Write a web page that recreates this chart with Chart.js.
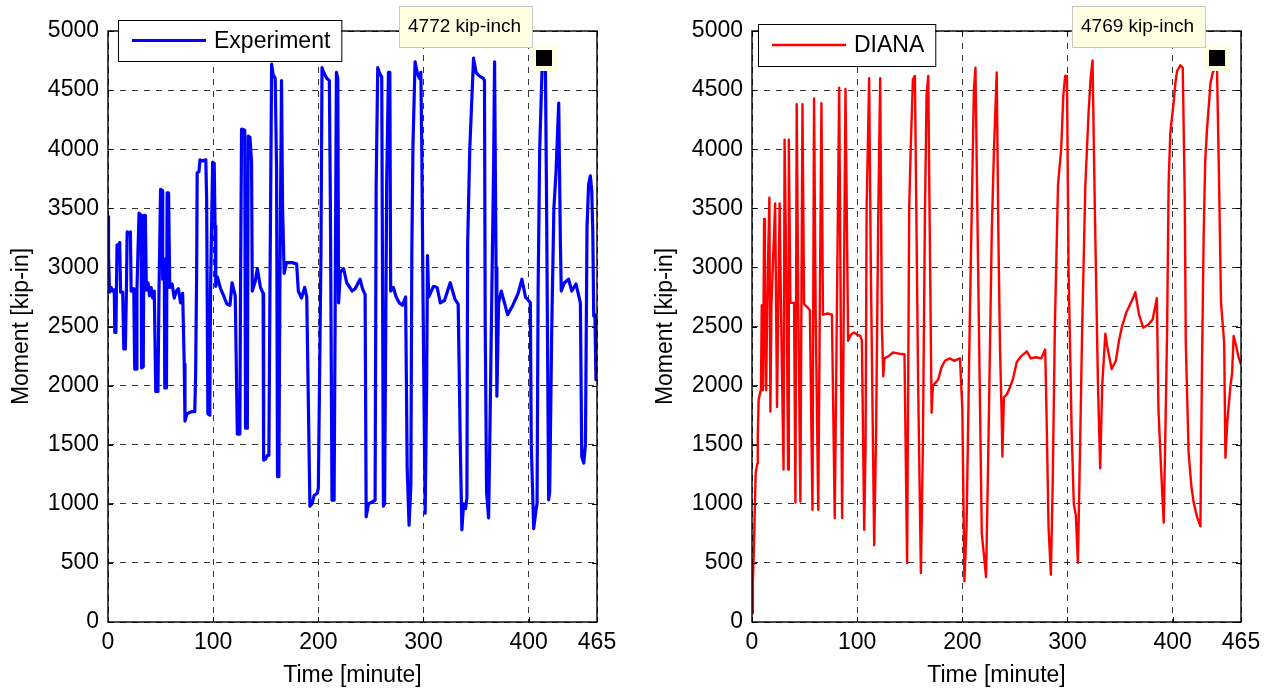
<!DOCTYPE html>
<html>
<head>
<meta charset="utf-8">
<script src="https://cdn.jsdelivr.net/npm/chart.js@4.4.0/dist/chart.umd.min.js"></script>
<style>
  html, body { margin: 0; padding: 0; background: #fff; }
  #wrap { position: relative; width: 1270px; height: 690px; }
  canvas { position: absolute; top: 0; }
</style>
</head>
<body>
<div id="wrap">
  <canvas id="expChart" width="635" height="690" style="left:0;width:635px;height:690px"></canvas>
  <canvas id="dianaChart" width="635" height="690" style="left:635px;width:635px;height:690px"></canvas>
</div>
<script>
// Experiment (blue)
var expTime = [0, 0.5, 1.5, 3, 4.5, 6, 6.5, 7.5, 8, 8.6, 10, 11.1, 12, 14, 15, 16.5, 17.5, 18.2, 20, 21.3,
  22, 24.5, 25.4, 26.8, 27.5, 29.5, 31.5, 32, 33.5, 34.3, 35.5, 36.5, 38, 39.5, 41, 42.5, 44, 45.4, 47.5, 48.5, 50, 51.5,
  52, 53.5, 54, 55.6, 56.2, 57.6, 58.7, 61, 63, 65, 67, 69, 71, 72.5, 73.2, 75, 77, 80, 82.5, 83.3,
  84.3, 84.8, 86.5, 87.5, 90, 93, 93.8, 95, 96.8, 97.5, 99.5, 101, 101.8, 102.5, 104, 107, 110, 113, 116, 118,
  121, 123, 125.4, 126, 127, 130, 130.8, 132.5, 133.3, 135, 136.5, 137.2, 140, 142, 145, 147.5, 148, 150, 151.5, 153,
  154, 155.6, 157, 159, 160.3, 161.2, 162.5, 163.5, 165, 166, 167.5, 169.8, 175, 179.4, 181, 184, 187, 189, 192, 194,
  196, 199, 200, 201.5, 202.5, 203.5, 205, 208, 210.5, 211.5, 213, 215, 216, 217.2, 218.5, 219.3, 221, 224, 227, 230,
  232, 235, 239.7, 242, 244.5, 245.5, 247.7, 250, 254, 255, 256.5, 258, 260.3, 261, 261.9, 263, 265, 266.7, 268, 268.8,
  271.4, 274, 277, 280, 283, 284.5, 286.3, 288, 288.9, 290, 292, 294, 296, 297.5, 298.4, 299.5, 301.6, 303, 303.8, 305,
  309.5, 313, 316, 320, 325.4, 330, 333, 335, 336.5, 338.1, 340, 341.3, 342, 344, 347.6, 350, 353, 357, 358, 358.7,
  360, 361.9, 363, 365, 366.7, 367.6, 369, 369.8, 371.4, 374, 377, 380, 385, 390, 393.6, 397, 401.6, 402.5, 404.8, 407,
  408, 409, 410.5, 412.7, 414.3, 416, 417, 419, 420, 422, 424, 426, 428.6, 430.2, 431, 434, 438, 441, 445, 449.2,
  450.5, 452.4, 454, 455.5, 457, 458.7, 460, 461, 461.9, 463, 464, 465];
var expMoment = [3430, 3100, 2790, 2830, 2800, 2810, 2450, 2450, 2800, 3190, 3180, 3210, 2790, 2790, 2310, 2310, 2800, 3300, 3280, 3300,
  2800, 2820, 2140, 2140, 2800, 3460, 3440, 2150, 2160, 3440, 3440, 2810, 2870, 2760, 2830, 2740, 2800, 1950, 1950, 2800, 3660, 3650,
  2900, 3070, 1980, 1980, 3630, 3630, 2830, 2860, 2740, 2800, 2820, 2700, 2780, 2180, 1700, 1760, 1770, 1780, 1780, 2080,
  2960, 3800, 3810, 3910, 3900, 3910, 3580, 1760, 1750, 2800, 3890, 3880, 3350, 2840, 2920, 2820, 2760, 2690, 2680, 2870,
  2760, 1590, 1590, 2780, 4170, 4160, 1640, 1640, 4110, 4100, 3890, 2800, 2880, 2990, 2830, 2780, 1370, 1380, 1410, 1410,
  2800, 4720, 4630, 4600, 3830, 1230, 1230, 2900, 4580, 3500, 2950, 3040, 3040, 3030, 2800, 2740, 2830, 2750, 980, 1000,
  1070, 1090, 1130, 2300, 3100, 4690, 4650, 4600, 4580, 3500, 1030, 1030, 2600, 4650, 4600, 2700, 2960, 2990, 2870, 2830,
  2800, 2820, 2900, 2820, 2770, 890, 1000, 1010, 1030, 3690, 4690, 4650, 4610, 3000, 980, 1000, 3700, 4650, 4650, 2800,
  2830, 2750, 2700, 2680, 2750, 1300, 820, 1160, 3120, 4030, 4740, 4650, 4600, 4650, 4000, 2800, 920, 2000, 3100, 2750,
  2840, 2830, 2700, 2720, 2870, 2730, 2690, 1500, 780, 1000, 960, 1050, 3200, 4000, 4770, 4650, 4620, 4600, 4580, 2500,
  1100, 880, 1500, 2800, 3860, 4740, 3000, 1910, 2700, 2800, 2700, 2600, 2680, 2780, 2900, 2750, 2700, 1500, 790, 950,
  1000, 2800, 4000, 4660, 4772, 4650, 3600, 1034, 1100, 2500, 3500, 3800, 4390, 3200, 2800, 2870, 2900, 2800, 2860, 2700,
  1400, 1345, 1500, 3340, 3700, 3775, 3650, 3300, 2590, 2600, 2050, 2600];

// DIANA (red)
var dianaTime = [0, 0.8, 1.8, 2.5, 3.5, 5, 5.5, 6.3, 8.5, 9.3, 10.5, 11.5, 12.3, 13.5, 14.5, 16.5, 17.5, 18.5, 22, 23.8,
  25, 26.3, 27.5, 30, 31, 33, 34.3, 35, 36.5, 40, 41.3, 42.5, 44, 46, 48, 49.5, 53, 55, 57.5, 59,
  60.5, 63, 66, 67.5, 72, 76, 78.7, 82.9, 85.7, 88.9, 91.4, 94, 97, 100, 103, 104.5, 106.7, 108, 109, 111.4,
  113, 116.2, 118, 120, 121.9, 123.5, 124.8, 126, 130, 134, 140, 145, 146.5, 147.5, 149.5, 151, 153, 154.9, 156, 158,
  160.6, 162.5, 164.5, 166, 167.6, 168.8, 170.8, 172, 177, 180, 183.5, 188, 192, 197.8, 200, 202, 204, 207, 209, 211,
  212.5, 215, 218.5, 222.6, 225, 228, 230, 232.7, 234.3, 235.8, 237.5, 238.1, 239.5, 242.3, 245, 248, 251.8, 256, 261.3, 265,
  270, 275, 278.8, 280, 282, 284.2, 286, 288, 291, 294, 296, 297.8, 299.5, 301, 304, 306, 308, 309.9, 312, 314,
  317, 320, 322, 323.8, 326, 329, 331.1, 333, 336, 338, 342, 346, 349, 351.8, 356, 361.3, 364.5, 368, 372, 377.2,
  381, 385, 386.5, 389, 391.5, 393.1, 394.7, 396.2, 397.8, 401, 402.6, 404.2, 407.3, 409.6, 411.5, 412.5, 415.2, 417.8, 420, 423.2,
  426.4, 427.9, 429.5, 431, 432.7, 436, 438.2, 440.7, 442, 444, 446, 449, 450.2, 452, 455, 456.5, 458, 460, 463, 465];
var dianaMoment = [75, 330, 610, 890, 1260, 1340, 1570, 1880, 1970, 2680, 1960, 3410, 2680, 1960, 2700, 3590, 1780, 2690, 3540, 1820,
  2690, 3540, 2700, 1290, 4080, 2690, 1290, 4080, 2700, 2700, 1010, 4380, 2680, 1020, 4380, 2690, 2660, 2640, 950, 4430,
  2640, 950, 4390, 2600, 2610, 2600, 880, 4520, 880, 4510, 2380, 2430, 2450, 2430, 2420, 2380, 780, 1500, 3500, 4600,
  3000, 650, 1600, 3400, 4600, 2500, 2080, 2230, 2250, 2280, 2270, 2265, 1200, 500, 3520, 4030, 4590, 4620, 3690, 2000,
  415, 1500, 3500, 4460, 4620, 3500, 1770, 2000, 2050, 2150, 2210, 2230, 2210, 2230, 1800, 345, 800, 2500, 3500, 4500,
  4690, 3000, 750, 380, 1600, 3300, 3970, 4650, 3270, 2330, 1710, 1400, 1900, 1925, 1980, 2050, 2200, 2250, 2290, 2230,
  2240, 2230, 2305, 1800, 800, 400, 1200, 2500, 3700, 4000, 4450, 4620, 4620, 3000, 1600, 1000, 900, 500, 1500, 2500,
  3700, 4300, 4600, 4750, 3500, 2000, 1300, 2000, 2440, 2320, 2140, 2210, 2380, 2500, 2620, 2720, 2790, 2600, 2490, 2520,
  2560, 2740, 1800, 1300, 840, 1610, 2450, 3720, 4140, 4400, 4560, 4660, 4710, 4690, 3600, 2360, 1430, 1150, 1010, 890,
  810, 2160, 3270, 3910, 4170, 4560, 4650, 4690, 4769, 3800, 2700, 2360, 1390, 1700, 2000, 2100, 2420, 2350, 2230, 2180];

var xTicks = [0, 100, 200, 300, 400, 465];
var yTicks = [0, 500, 1000, 1500, 2000, 2500, 3000, 3500, 4000, 4500, 5000];

var FONT = "'Liberation Sans', Arial, sans-serif";

function toPoints(t, v) {
  return t.map(function (x, i) { return { x: x, y: v[i] }; });
}

// box around the plot area and small inward tick marks
var framePlugin = {
  id: 'frame',
  afterDatasetsDraw: function (chart) {
    var a = chart.chartArea, ctx = chart.ctx;
    var xs = chart.scales.x, ys = chart.scales.y;
    ctx.save();
    ctx.strokeStyle = '#000';
    ctx.lineWidth = 1;
    ctx.beginPath();
    xTicks.forEach(function (v) {
      var px = Math.round(xs.getPixelForValue(v)) + 0.5;
      ctx.moveTo(px, a.bottom); ctx.lineTo(px, a.bottom - 5);
      ctx.moveTo(px, a.top); ctx.lineTo(px, a.top + 5);
    });
    yTicks.forEach(function (v) {
      var py = Math.round(ys.getPixelForValue(v)) + 0.5;
      ctx.moveTo(a.left, py); ctx.lineTo(a.left + 5, py);
      ctx.moveTo(a.right, py); ctx.lineTo(a.right - 5, py);
    });
    ctx.stroke();
    ctx.lineWidth = 1.4;
    ctx.strokeRect(a.left, a.top, a.right - a.left, a.bottom - a.top);
    ctx.restore();
  }
};

// matlab style legend box inside the axes
var boxLegend = {
  id: 'boxLegend',
  afterDraw: function (chart, args, opts) {
    var ds = chart.data.datasets[0];
    var ctx = chart.ctx, a = chart.chartArea;
    var x0 = a.left + opts.dx, y0 = a.top + opts.dy, h = opts.h;
    ctx.save();
    ctx.font = '23px ' + FONT;
    var w = 96 + ctx.measureText(ds.label).width + 11;
    ctx.fillStyle = '#fff';
    ctx.fillRect(x0, y0, w, h);
    ctx.strokeStyle = '#000';
    ctx.lineWidth = 1;
    ctx.strokeRect(x0 + 0.5, y0 + 0.5, w, h);
    ctx.strokeStyle = ds.borderColor;
    ctx.lineWidth = ds.borderWidth;
    ctx.beginPath();
    ctx.moveTo(x0 + 14, y0 + h / 2);
    ctx.lineTo(x0 + 88, y0 + h / 2);
    ctx.stroke();
    ctx.fillStyle = '#000';
    ctx.textBaseline = 'middle';
    ctx.fillText(ds.label, x0 + 96, y0 + h / 2 + 1);
    ctx.restore();
  }
};

// data tip on the largest value
var dataTip = {
  id: 'dataTip',
  afterDraw: function (chart) {
    var pts = chart.data.datasets[0].data;
    var best = pts[0];
    pts.forEach(function (p) { if (p.y > best.y) best = p; });
    var px = Math.round(chart.scales.x.getPixelForValue(best.x));
    var py = Math.round(chart.scales.y.getPixelForValue(best.y));
    var ctx = chart.ctx;
    ctx.save();
    ctx.fillStyle = '#ffffe1';
    ctx.fillRect(px - 13, py - 13, 26, 26);
    ctx.fillStyle = '#000';
    ctx.fillRect(px - 8, py - 8, 16, 16);
    ctx.font = '19px ' + FONT;
    var text = best.y + ' kip-inch';
    var w = Math.round(ctx.measureText(text).width + 21);
    var bx = px - 11 - w, by = py - 10 - 42;
    ctx.fillStyle = '#ffffe1';
    ctx.fillRect(bx, by, w, 42);
    ctx.strokeStyle = '#c8c8c8';
    ctx.lineWidth = 1;
    ctx.strokeRect(bx + 0.5, by + 0.5, w - 1, 41);
    ctx.fillStyle = '#000';
    ctx.textBaseline = 'middle';
    ctx.fillText(text, bx + 9, by + 21);
    ctx.restore();
  }
};

function makeChart(id, times, moments, label, color, lineW, pad, legendPos) {
  return new Chart(id, {
    type: 'line',
    data: {
      datasets: [{
        label: label,
        data: toPoints(times, moments),
        borderColor: color,
        borderWidth: lineW,
        borderJoinStyle: 'round',
        pointRadius: 0,
        tension: 0,
        fill: false
      }]
    },
    options: {
      responsive: false,
      animation: false,
      events: [],
      layout: { padding: pad },
      plugins: {
        legend: { display: false },
        tooltip: { enabled: false },
        boxLegend: legendPos
      },
      scales: {
        x: {
          type: 'linear',
          min: 0,
          max: 465,
          afterBuildTicks: function (s) { s.ticks = xTicks.map(function (v) { return { value: v }; }); },
          afterFit: function (s) { s.height = 68; },
          ticks: { font: { size: 23, family: FONT }, color: '#000', padding: 7, maxRotation: 0, autoSkip: false },
          grid: { color: 'rgba(0,0,0,0.8)', lineWidth: 1, drawTicks: false },
          border: { display: false, dash: [6, 6] },
          title: { display: true, text: 'Time [minute]', font: { size: 23, family: FONT }, color: '#000', padding: { top: 0, bottom: 1 } }
        },
        y: {
          type: 'linear',
          min: 0,
          max: 5000,
          afterBuildTicks: function (s) { s.ticks = yTicks.map(function (v) { return { value: v }; }); },
          afterFit: function (s) { s.width = 108; },
          ticks: { font: { size: 23, family: FONT }, color: '#000', padding: 9, callback: function (v) { return String(v); } },
          grid: { color: 'rgba(0,0,0,0.8)', lineWidth: 1, drawTicks: false },
          border: { display: false, dash: [6, 6] },
          title: { display: true, text: 'Moment [kip-in]', font: { size: 23, family: FONT }, color: '#000', padding: { top: 8, bottom: 0 } }
        }
      }
    },
    plugins: [framePlugin, boxLegend, dataTip]
  });
}

makeChart('expChart', expTime, expMoment, 'Experiment', '#0000ff', 3.2,
  { top: 31, right: 38, left: 0, bottom: 0 }, { dx: 10, dy: -11, h: 41 });
makeChart('dianaChart', dianaTime, dianaMoment, 'DIANA', '#ff0000', 2.4,
  { top: 31, right: 29, left: 9, bottom: 0 }, { dx: 6, dy: -7, h: 42 });
</script>
</body>
</html>
